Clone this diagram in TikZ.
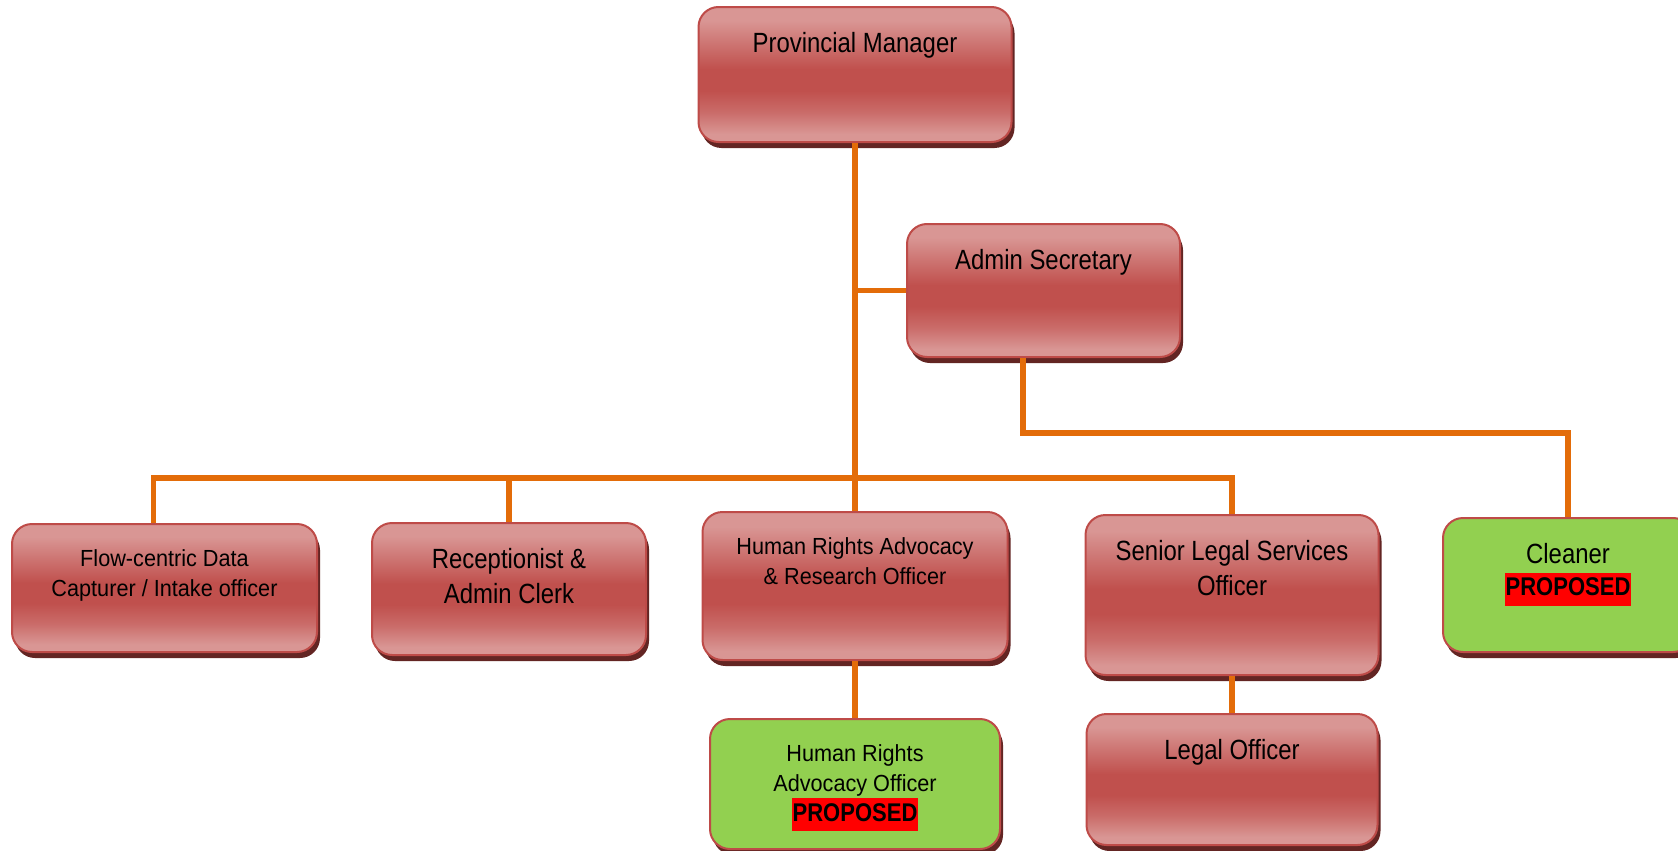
\documentclass[tikz,border=0pt]{standalone}
\usepackage{fontspec}
\setmainfont{Liberation Sans}
\newfontfamily\roleface[FakeStretch=0.86]{Liberation Sans}
\newfontfamily\roleslim[FakeStretch=0.93]{Liberation Sans}
\usetikzlibrary{positioning, shadows}
\definecolor{rosepale}{HTML}{D99694}
\definecolor{rosedeep}{HTML}{C0504D}
\definecolor{roseedge}{HTML}{BE4B48}
\definecolor{roseshade}{HTML}{632523}
\definecolor{leafgreen}{HTML}{92D050}
\definecolor{linkorange}{HTML}{E36C09}
\pgfdeclareverticalshading{rosegloss}{100bp}{color(0bp)=(rosepale); color(28bp)=(rosepale); color(36bp)=(rosedeep!60!rosepale); color(44bp)=(rosedeep); color(52bp)=(rosedeep); color(62bp)=(rosedeep!45!rosepale); color(70bp)=(rosepale); color(100bp)=(rosepale)}
\newcommand{\bigrole}{\roleface\fontsize{13.9}{17.5}\selectfont}
\newcommand{\smallrole}{\roleslim\fontsize{11.65}{15}\selectfont}
\newcommand{\proposed}{{\roleface\bfseries\fontsize{12.8}{15.4}\selectfont\setlength{\fboxsep}{0.5pt}\colorbox{red}{\strut PROPOSED}}}
\newcommand{\roletext}[3]{\parbox[t][#1][t]{124pt}{\centering#2\vspace*{10.5pt}\strut#3\par}}

\begin{document}
\begin{tikzpicture}[x=0.5pt, y=-0.5pt,
  post/.style={rectangle, rounded corners=10pt, draw=roseedge, line width=1pt, inner sep=0pt, drop shadow={shadow xshift=1.5pt, shadow yshift=-3pt, fill=roseshade, opacity=1}},
  redpost/.style={post, shading=rosegloss},
  greenpost/.style={post, fill=leafgreen},
  link/.style={draw=linkorange, line width=2.6pt}]
\path[use as bounding box] (0,0) rectangle (1678,851);
\clip (0,0) rectangle (1678,851);

% top of the office
\node (pm) [redpost, minimum width=156.5pt] at (855,74.5) {\roletext{67.5pt}{\bigrole}{Provincial Manager}};
\node (adsec) [redpost, minimum width=136.5pt] at (1043.5,290.5) {\roletext{66.5pt}{\bigrole}{Admin Secretary}};

% staff row
\node (flow) [redpost, minimum width=152.5pt] at (164.5,588) {\roletext{64pt}{\smallrole}{Flow-centric Data\\Capturer / Intake officer}};
\node (recep) [redpost, minimum width=137pt] at (509,589) {\roletext{66pt}{\bigrole}{Receptionist \&\\Admin Clerk}};
\node (hrar) [redpost, minimum width=152.5pt] at (855,586) {\roletext{74pt}{\smallrole}{Human Rights Advocacy\\\& Research Officer}};
\node (sls) [redpost, minimum width=146.5pt] at (1232,595) {\roletext{80pt}{\bigrole}{Senior Legal Services\\Officer}};
\node (cleaner) [greenpost, minimum width=125pt] at (1568,585) {\roletext{67pt}{\bigrole}{Cleaner\\[-1.5pt]\proposed}};
\node (hrao) [greenpost, minimum width=145pt, below=28.5pt of hrar] {\roletext{65pt}{\smallrole}{Human Rights\\Advocacy Officer\\\proposed}};
\node (lo) [redpost, minimum width=145.5pt, below=18.5pt of sls] {\roletext{65.5pt}{\bigrole}{Legal Officer}};

% reporting lines
\coordinate (rail) at (855,478);
\draw[link] (pm.south) -- (hrar.north);
\draw[link] (adsec.west) -- (adsec.west -| pm.south);
\draw[link] ([xshift=-10.25pt]adsec.south) -- ++(0,75) -| (cleaner.north);
\draw[link] ([xshift=-5.5pt]flow.north) |- (rail) -| (sls.north);
\draw[link] (recep.north) -- (recep.north |- rail);
\draw[link] (hrar.south) -- (hrao.north);
\draw[link] (sls.south) -- (lo.north);

\end{tikzpicture}
\end{document}
